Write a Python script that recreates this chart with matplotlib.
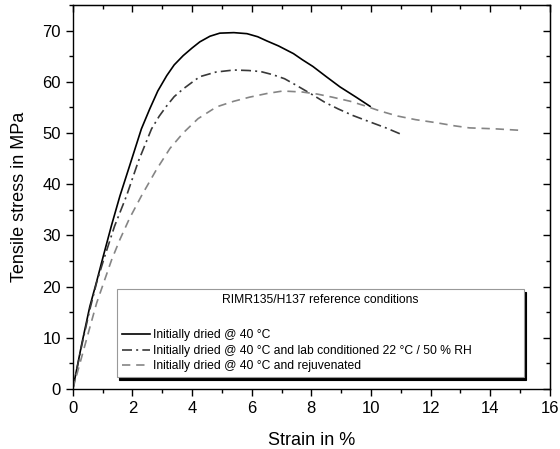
import matplotlib
matplotlib.use("Agg")
from matplotlib import pyplot as plt
from matplotlib.ticker import MultipleLocator

plt.rcParams['font.family'] = ['Liberation Sans', 'DejaVu Sans']

# Initially dried @ 40 °C
strain_dry = [0, 0.3, 0.57, 0.8, 1.02, 1.3, 1.58, 1.9, 2.3, 2.58, 2.85, 3.15, 3.4, 3.7,
              4.0, 4.26, 4.6, 4.93, 5.4, 5.84, 6.2, 6.5, 6.9, 7.4, 7.7, 8.05, 8.5,
              8.96, 9.5, 9.97]
stress_dry = [0, 8.8, 16.1, 21.0, 25.9, 32.0, 37.7, 43.5, 50.8, 54.7, 58.2, 61.2, 63.3, 65.1,
              66.6, 67.8, 68.9, 69.5, 69.6, 69.4, 68.8, 68.0, 67.0, 65.5, 64.3, 63.0, 61.0,
              59.0, 57.0, 55.2]

# Initially dried @ 40 °C and lab conditioned 22 °C / 50 % RH
strain_lab = [0, 0.3, 0.57, 0.8, 1.07, 1.4, 1.8, 2.2, 2.64, 2.9, 3.15, 3.4, 3.7, 4.0,
              4.26, 4.8, 5.4, 5.9, 6.3, 6.7, 7.1, 7.5, 8.0, 8.45, 8.9, 9.4, 9.9,
              10.5, 11.07]
stress_lab = [0, 8.5, 15.5, 20.8, 25.9, 31.8, 37.7, 44.5, 50.8, 53.3, 55.3, 57.1, 58.6, 59.9,
              61.0, 61.9, 62.3, 62.2, 62.0, 61.4, 60.6, 59.3, 57.6, 56.0, 54.7, 53.4, 52.3,
              51.0, 49.6]

# Initially dried @ 40 °C and rejuvenated
strain_rej = [0, 0.3, 0.57, 0.8, 1.02, 1.3, 1.58, 1.9, 2.3, 2.8, 3.26, 3.7, 4.2, 4.82,
              5.4, 5.93, 6.5, 7.04, 7.7, 8.2, 8.7, 9.3, 9.8, 10.3, 10.9, 11.5, 12.2,
              12.8, 13.3, 14.2, 15.07]
stress_rej = [0, 6.3, 12.0, 16.8, 20.5, 25.2, 29.2, 33.3, 37.7, 42.8, 47.0, 50.0, 52.8, 55.1,
              56.2, 57.0, 57.7, 58.2, 58.0, 57.6, 57.0, 56.2, 55.3, 54.3, 53.3, 52.6, 52.0,
              51.4, 51.0, 50.8, 50.5]

fig = plt.figure(figsize=(5.6, 4.49), dpi=100)
ax = fig.add_axes([0.130, 0.1336, 0.852, 0.8553])

ax.plot(strain_dry, stress_dry, color='black', lw=1.2, ls='-',
        label='Initially dried @ 40 °C')
ax.plot(strain_lab, stress_lab, color='#383838', lw=1.2, ls=(0, (6, 2.5, 1.2, 2.5)),
        label='Initially dried @ 40 °C and lab conditioned 22 °C / 50 % RH')
ax.plot(strain_rej, stress_rej, color='#858585', lw=1.2, ls=(0, (5, 3.5)),
        label='Initially dried @ 40 °C and rejuvenated')

ax.set_xlim(0, 16)
ax.set_ylim(0, 75)
ax.xaxis.set_major_locator(MultipleLocator(2))
ax.xaxis.set_minor_locator(MultipleLocator(1))
ax.yaxis.set_major_locator(MultipleLocator(10))
ax.yaxis.set_minor_locator(MultipleLocator(5))
ax.tick_params(which='major', direction='out', length=5, width=1, labelsize=12)
ax.tick_params(which='minor', direction='out', length=3, width=1)

# ticks inward on top and right
top = ax.secondary_xaxis('top')
top.xaxis.set_major_locator(MultipleLocator(2))
top.xaxis.set_minor_locator(MultipleLocator(1))
top.tick_params(which='major', direction='in', length=5, width=1, labeltop=False)
top.tick_params(which='minor', direction='in', length=3, width=1)
right = ax.secondary_yaxis('right')
right.yaxis.set_major_locator(MultipleLocator(10))
right.yaxis.set_minor_locator(MultipleLocator(5))
right.tick_params(which='major', direction='in', length=5, width=1, labelright=False)
right.tick_params(which='minor', direction='in', length=3, width=1)

for s in ax.spines.values():
    s.set_linewidth(1)

ax.set_xlabel('Strain in %', fontsize=13, labelpad=12)
ax.set_ylabel('Tensile stress in MPa', fontsize=13, labelpad=10)

leg = ax.legend(loc='lower left', bbox_to_anchor=(0.092, 0.031, 0.853, 0.235),
                mode='expand', title='RIMR135/H137 reference conditions\n',
                fontsize=8.75, title_fontsize=8.75, fancybox=False,
                shadow={'color': 'black', 'alpha': 1}, framealpha=1,
                edgecolor='#999999', handlelength=2.35, handletextpad=0.2,
                borderaxespad=0, labelspacing=0.28, borderpad=0.4)
leg.get_title().set_linespacing(1.9)
leg.get_frame().set_linewidth(0.8)

fig.savefig('out.png', dpi=100)
